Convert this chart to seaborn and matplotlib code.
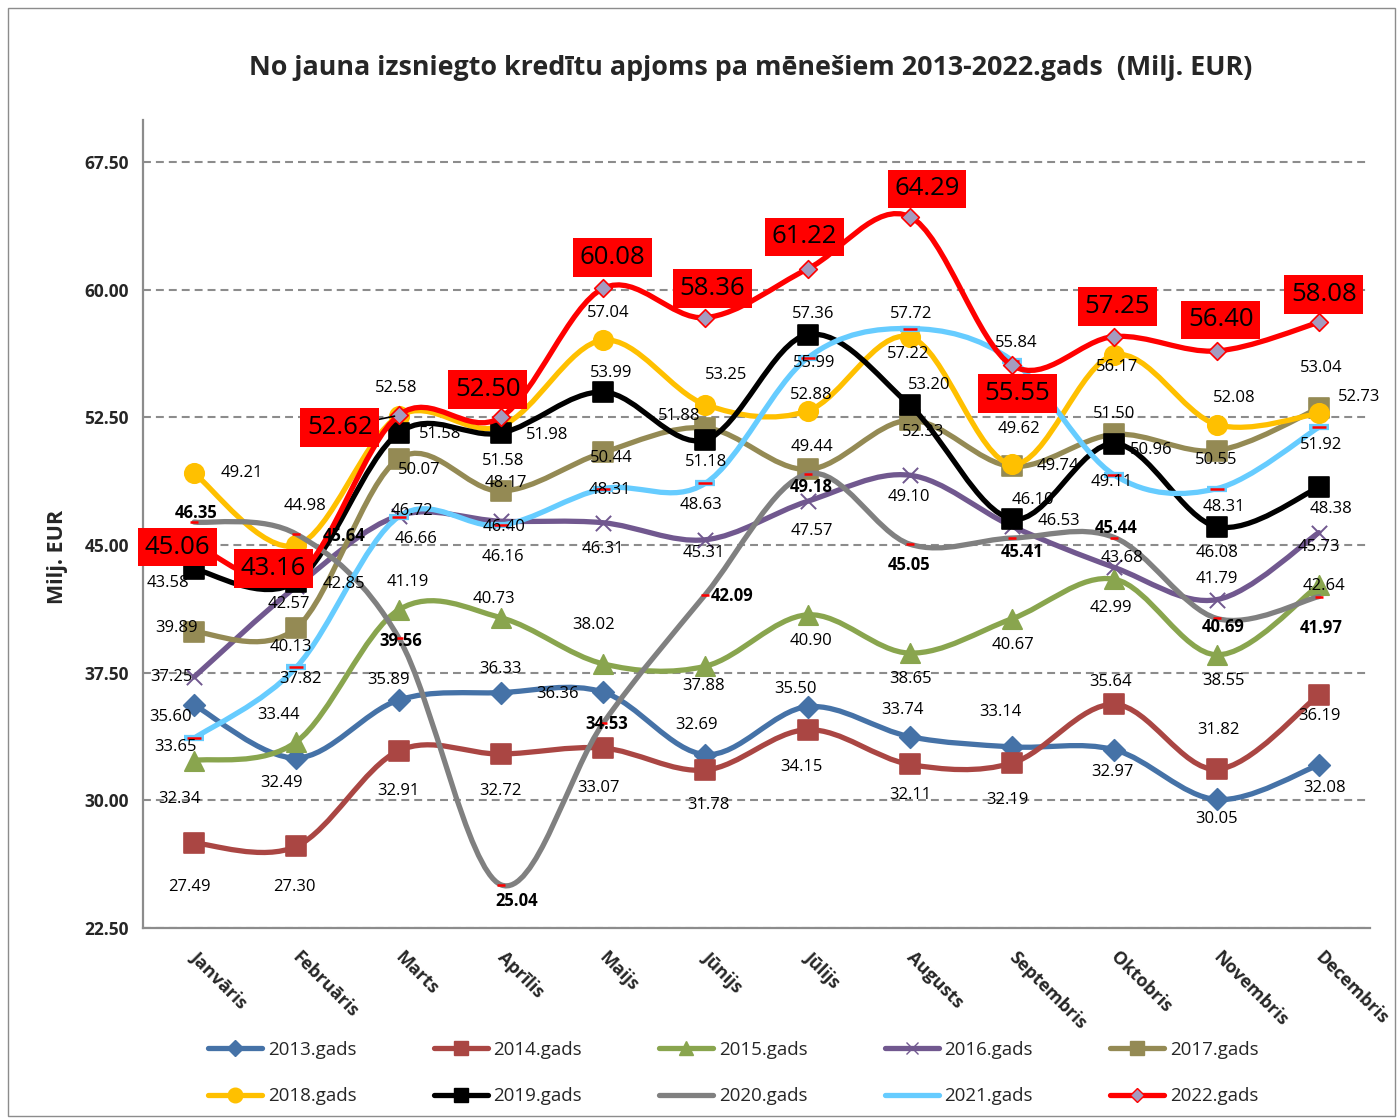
import numpy as np
import pandas as pd
import matplotlib
matplotlib.use("Agg")
import matplotlib.pyplot as plt
from matplotlib.path import Path
from matplotlib.patches import PathPatch, Rectangle
from matplotlib.lines import Line2D
from matplotlib.transforms import ScaledTranslation
import seaborn as sns

# --- data -------------------------------------------------------------
months = ["Janvāris", "Februāris", "Marts", "Aprīlis", "Maijs", "Jūnijs",
          "Jūlijs", "Augusts", "Septembris", "Oktobris", "Novembris", "Decembris"]
years = ["2013.gads", "2014.gads", "2015.gads", "2016.gads", "2017.gads",
         "2018.gads", "2019.gads", "2020.gads", "2021.gads", "2022.gads"]

v2013 = [35.60, 32.49, 35.89, 36.33, 36.36, 32.69, 35.50, 33.74, 33.14, 32.97, 30.05, 32.08]
v2014 = [27.49, 27.30, 32.91, 32.72, 33.07, 31.78, 34.15, 32.11, 32.19, 35.64, 31.82, 36.19]
v2015 = [32.34, 33.44, 41.19, 40.73, 38.02, 37.88, 40.90, 38.65, 40.67, 42.99, 38.55, 42.64]
v2016 = [37.25, 42.57, 46.72, 46.40, 46.31, 45.31, 47.57, 49.10, 46.10, 43.68, 41.79, 45.73]
v2017 = [39.89, 40.13, 50.07, 48.17, 50.44, 51.88, 49.44, 52.33, 49.62, 51.50, 50.55, 53.04]
v2018 = [49.21, 44.98, 52.58, 51.98, 57.04, 53.25, 52.88, 57.22, 49.74, 56.17, 52.08, 52.73]
v2019 = [43.58, 42.85, 51.58, 51.58, 53.99, 51.18, 57.36, 53.20, 46.53, 50.96, 46.08, 48.38]
v2020 = [46.35, 45.64, 39.56, 25.04, 34.53, 42.09, 49.18, 45.05, 45.41, 45.44, 40.69, 41.97]
v2021 = [33.65, 37.82, 46.66, 46.16, 48.31, 48.63, 55.99, 57.72, 55.84, 49.11, 48.31, 51.92]
v2022 = [45.06, 43.16, 52.62, 52.50, 60.08, 58.36, 61.22, 64.29, 55.55, 57.25, 56.40, 58.08]
series = [v2013, v2014, v2015, v2016, v2017, v2018, v2019, v2020, v2021, v2022]

y_ticks = [22.5, 30.0, 37.5, 45.0, 52.5, 60.0, 67.5]

# --- styles -----------------------------------------------------------
colors = ["#4572A7", "#AA4643", "#89A54E", "#71588F", "#948A54",
          "#FFC000", "#000000", "#808080", "#66CCFF", "#FF0000"]
markers = ["D", "s", "^", "x", "s", "o", "s", "_", "_", "D"]
msizes = [11, 14, 14, 11, 14, 14, 14, 6, 10, 9]          # points
face = [None, None, None, None, None, None, None, None, None, "#A49BBF"]

# label offsets in pixels (dx, dy with dy pointing down)
label_offsets = [
    [(-24, 12), (-15, 25), (-10, -20), (0, -24), (-46, 2), (-9, -30), (-12, -18), (-7, -27), (-12, -35), (-2, 22), (0, 20), (6, 23)],
    [(-5, 44), (-2, 41), (0, 40), (0, 37), (-5, 40), (3, 35), (-6, 37), (0, 31), (-5, 37), (-4, -22), (2, -39), (1, 21)],
    [(-15, 38), (-18, -27), (9, -28), (-7, -19), (-10, -39), (-2, 20), (3, 26), (1, 26), (1, 26), (-3, 29), (7, 26), (5, 1)],
    [(-23, 0), (-7, 18), (13, -5), (3, 6), (0, 26), (-2, 13), (4, 30), (-1, 22), (21, -26), (8, -9), (0, -21), (0, 14)],
    [(-18, -4), (-6, 19), (21, 11), (5, -8), (8, 6), (-26, -12), (4, -22), (13, 12), (7, -37), (0, -20), (0, 9), (2, -40)],
    [(48, 0), (9, -39), (-2, -28), (46, 9), (5, -27), (21, -30), (4, -16), (-2, 17), (46, 2), (3, 12), (18, -27), (40, -16)],
    [(-26, 14), (48, 2), (41, 1), (2, 28), (8, -19), (1, 22), (6, -21), (19, -20), (47, 2), (37, 6), (0, 26), (12, 22)],
    [(2, -9), (48, 2), (2, 3), (16, 16), (4, 1), (27, 1), (4, 13), (-1, 21), (10, 14), (2, -10), (7, 9), (2, 31)],
    [(-19, 9), (4, 12), (17, 22), (2, 32), (7, 1), (-4, 22), (7, 5), (1, -15), (4, -18), (-3, 7), (7, 18), (2, 18)],
    [(-17, 3), (-23, -8), (-59, 12), (-13, -28), (9, -31), (7, -29), (-3, -32), (17, -28), (5, 28), (3, -30), (4, -31), (5, -28)],
]

df = pd.DataFrame({
    "year": np.repeat(years, len(months)),
    "pos": np.tile(np.arange(len(months)), len(years)),
    "value": np.concatenate(series),
})


def smooth_path(xs, ys):
    # Excel-like smoothed line: Catmull-Rom as cubic Bezier segments
    pts = np.column_stack([xs, ys]).astype(float)
    n = len(pts)
    verts, codes = [pts[0]], [Path.MOVETO]
    for i in range(n - 1):
        p0 = pts[max(i - 1, 0)]
        p1, p2 = pts[i], pts[i + 1]
        p3 = pts[min(i + 2, n - 1)]
        verts += [p1 + (p2 - p0) / 6, p2 - (p3 - p1) / 6, p2]
        codes += [Path.CURVE4] * 3
    return Path(verts, codes)


sns.set_style("white")
plt.rcParams["font.family"] = ["Open Sans", "DejaVu Sans"]

fig = plt.figure(figsize=(14, 11.18), dpi=100)
ax = fig.add_axes([143 / 1400, 1 - 928 / 1118, 1227 / 1400, (928 - 119.5) / 1118])

for k, year in enumerate(years):
    d = df[df["year"] == year]
    z = 3 + k * 0.1
    ax.add_patch(PathPatch(smooth_path(d["pos"], d["value"]), fill=False,
                           ec=colors[k], lw=3.8, zorder=z,
                           capstyle="round", joinstyle="round"))
    if year == "2021.gads":
        sns.scatterplot(data=d, x="pos", y="value", marker="_", s=14.5 ** 2,
                        color=colors[k], linewidth=4.5, ax=ax, legend=False, zorder=z + 0.03)
        sns.scatterplot(data=d, x="pos", y="value", marker="_", s=msizes[k] ** 2,
                        color="#FF0000", linewidth=1.8, ax=ax, legend=False, zorder=z + 0.05)
    elif year == "2020.gads":
        sns.scatterplot(data=d, x="pos", y="value", marker="_", s=msizes[k] ** 2,
                        color="#FF0000", linewidth=1.8, ax=ax, legend=False, zorder=z + 0.05)
    elif markers[k] == "x":
        sns.scatterplot(data=d, x="pos", y="value", marker="x", s=msizes[k] ** 2,
                        color=colors[k], linewidth=1.4, ax=ax, legend=False, zorder=z + 0.05)
    else:
        sns.scatterplot(data=d, x="pos", y="value", marker=markers[k], s=msizes[k] ** 2,
                        color=face[k] or colors[k], edgecolor=colors[k], linewidth=1.2,
                        ax=ax, legend=False, zorder=z + 0.05)

    # data labels
    for i, ((p, v), (dx, dy)) in enumerate(zip(zip(d["pos"], d["value"]), label_offsets[k])):
        txt = f"{v:.2f}"
        if year == "2022.gads":
            # the March box sits left of its point, joined by a short leader
            arrow = dict(arrowstyle="-", color="black", lw=1.2, shrinkA=0, shrinkB=3) if i == 2 else None
            ax.annotate(txt, (p, v), xytext=(dx, -dy), textcoords="offset pixels",
                        ha="center", va="center", fontsize=18.5, color="black", zorder=30,
                        arrowprops=arrow,
                        bbox=dict(boxstyle="square,pad=0.26", fc="#FF0000", ec="none"))
        else:
            ax.annotate(txt, (p, v), xytext=(dx, -dy), textcoords="offset pixels",
                        ha="center", va="center", fontsize=12, color="black", zorder=25,
                        fontweight="bold" if year == "2020.gads" else "normal")

ax.set_xlim(-0.5, 11.5)
ax.set_ylim(22.5, 70)
ax.set_xlabel("")
ax.set_ylabel("")

ax.set_yticks(y_ticks)
ax.set_yticklabels([f"{t:.2f}" for t in y_ticks], fontsize=12.5, fontweight="bold")
ax.set_xticks(range(len(months)))
ax.set_xticklabels(months, rotation=-45, ha="left", va="center",
                   rotation_mode="anchor", fontsize=13, fontweight="bold")
ax.tick_params(axis="y", length=0, pad=10)
ax.tick_params(axis="x", length=0, pad=19)
shift = ScaledTranslation(-1 / 100, 0, fig.dpi_scale_trans)
for lbl in ax.get_xticklabels():
    lbl.set_transform(lbl.get_transform() + shift)

ax.set_axisbelow(True)
ax.yaxis.grid(True, linestyle=(0, (3.8, 2.4)), color="#8C8C8C", lw=1.5)
ax.xaxis.grid(False)
for s in ["top", "right"]:
    ax.spines[s].set_visible(False)
for s in ["left", "bottom"]:
    ax.spines[s].set_color("#8C8C8C")
    ax.spines[s].set_linewidth(1.6)

fig.text(751 / 1400, 1 - 68 / 1118,
         "No jauna izsniegto kredītu apjoms pa mēnešiem 2013-2022.gads  (Milj. EUR)",
         ha="center", va="center", fontsize=19.4, fontweight="bold")
fig.text(58 / 1400, 1 - 557 / 1118, "Milj. EUR", rotation=90,
         ha="center", va="center", fontsize=15.5, fontweight="bold")

# legend, filled row by row like Excel
handles = []
for k in range(len(years)):
    if markers[k] == "_":
        h = Line2D([0], [0], color=colors[k], lw=3.8)
    else:
        h = Line2D([0], [0], color=colors[k], lw=3.8, marker=markers[k],
                   markersize=msizes[k] * 0.75, mfc=face[k] or colors[k], mec=colors[k])
    handles.append(h)
order = [0, 5, 1, 6, 2, 7, 3, 8, 4, 9]
fig.legend([handles[i] for i in order], [years[i] for i in order], ncol=5,
           loc="upper left", bbox_to_anchor=(208 / 1400, 1 - 1041 / 1118),
           frameon=False, fontsize=13.5, handlelength=2.9, handletextpad=0.3,
           columnspacing=4.1, labelspacing=1.5, borderpad=0, borderaxespad=0)

fig.add_artist(Rectangle((8 / 1400, 2 / 1118), 1387 / 1400, 1108 / 1118,
                         transform=fig.transFigure, fill=False, ec="#8C8C8C", lw=1))

fig.savefig("out.png", dpi=100)
